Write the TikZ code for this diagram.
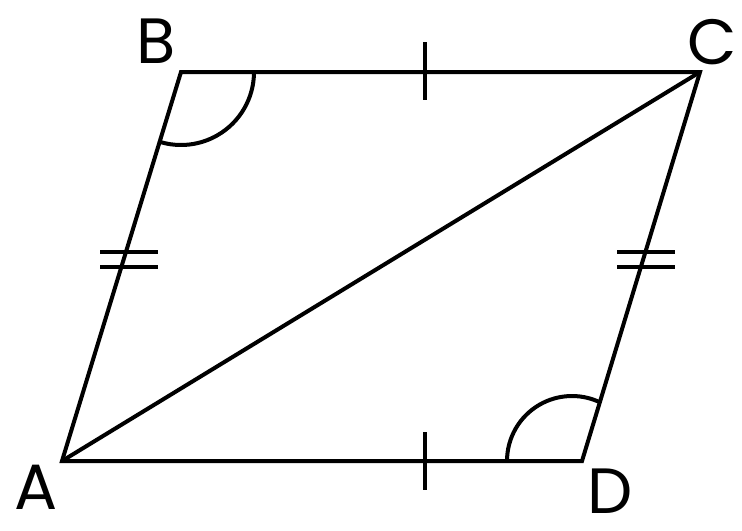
\documentclass[tikz,border=0pt]{standalone}
\usepackage{fontspec}
\setmainfont{Poppins}
\begin{document}
\begin{tikzpicture}[x=0.5pt,y=-0.5pt,
  edge/.style={line width=2pt,line join=miter},
  tickline/.style={line width=2pt},
  lbl/.style={font=\fontsize{32}{36}\selectfont,inner sep=0pt}]
\useasboundingbox (0,0) rectangle (742,530);
\coordinate (A) at (62,461);
\coordinate (B) at (181,72);
\coordinate (C) at (700,72);
\coordinate (D) at (582,461);
\draw[edge] (A) -- (B) -- (C) -- (D) -- cycle;
\draw[edge] (A) -- (C);
% single ticks
\draw[tickline] (425,42) -- (425,100);
\draw[tickline] (425,432) -- (425,490);
% double ticks
\draw[tickline] (100,252) -- (158,252) (100,267) -- (158,267);
\draw[tickline] (617,252) -- (675,252) (617,267) -- (675,267);
% angle arcs
\draw[tickline] (254,72) arc[start angle=0,end angle=107,radius=73];
\draw[tickline] (507,461) arc[start angle=180,end angle=294,radius=65];
% labels
\node[lbl] (lA) at (36,487) {A};
\node[lbl] (lB) at (156,41) {B};
\node[lbl] (lC) at (712,42) {C};
\node[lbl] (lD) at (610,491) {D};
\end{tikzpicture}
\end{document}
